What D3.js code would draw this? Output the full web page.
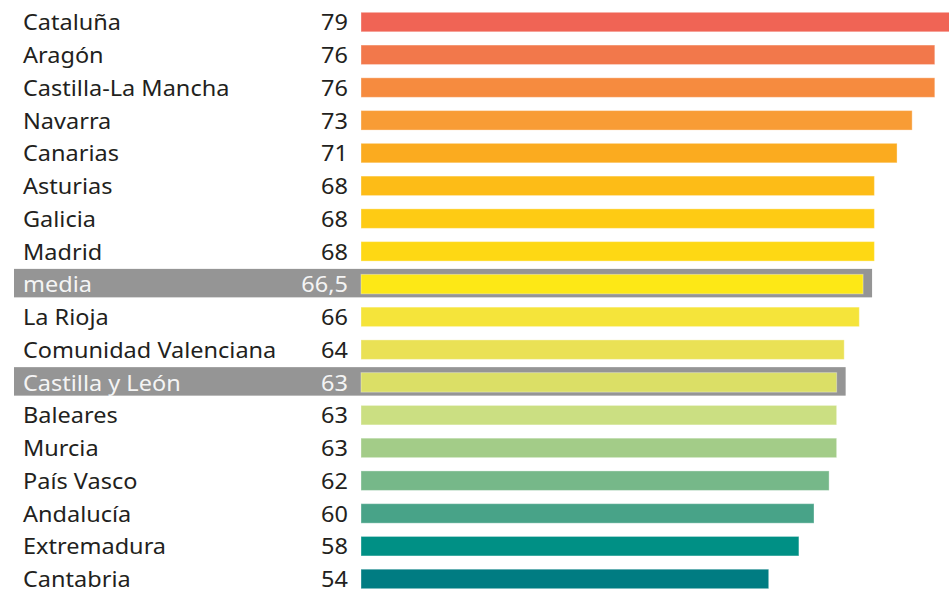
<!DOCTYPE html>
<html>
<head>
<meta charset="utf-8">
<script src="https://cdn.jsdelivr.net/npm/d3@7"></script>
<style>
  body { margin: 0; background: #fff; }
  svg { display: block; }
  text { font-family: "Noto Sans", "Open Sans", sans-serif; }
</style>
</head>
<body>
<div id="chart"></div>
<script>
// regiones, valores y colores de barra
var regions = ["Cataluña", "Aragón", "Castilla-La Mancha", "Navarra", "Canarias", "Asturias",
  "Galicia", "Madrid", "media", "La Rioja", "Comunidad Valenciana", "Castilla y León",
  "Baleares", "Murcia", "País Vasco", "Andalucía", "Extremadura", "Cantabria"]
var values = [79, 76, 76, 73, 71, 68, 68, 68, 66.5, 66, 64, 63, 63, 63, 62, 60, 58, 54]
var barColors = ["#f06455", "#f2784b", "#f68b3f", "#f89c35", "#fbab1f", "#fdbc17",
  "#fecb14", "#fed814", "#fde816", "#f5e43a", "#eae155", "#dbdf66",
  "#cbdf82", "#a3cc88", "#76b889", "#48a388", "#009085", "#007c82"]
var highlighted = ["media", "Castilla y León"]

var width = 949, height = 589
var stretch = 1.12  // la tipografía original es más ancha

var data = regions.map(function(r, i) {
  return { name: r, value: values[i], color: barColors[i] }
})

var svg = d3.select("#chart").append("svg")
  .attr("width", width)
  .attr("height", height)

var x = d3.scaleLinear().domain([0, 79]).range([361, 361 + 79 * 7.55])
var y = d3.scaleBand().domain(regions).range([12.3, 588.7]).paddingInner(0.405).paddingOuter(0)

var fmt = function(v) { return String(v).replace(".", ",") }
var baseY = d => y(d.name) + y.bandwidth() - 1.5

// cajas grises de las filas destacadas
svg.selectAll(".hl").data(data.filter(d => highlighted.includes(d.name)))
  .enter().append("rect")
  .attr("class", "hl")
  .attr("x", 14)
  .attr("y", d => y(d.name) - 5.5)
  .attr("width", d => x(d.value) + 9 - 14)
  .attr("height", y.bandwidth() + 9)
  .attr("fill", "#959595")

svg.selectAll(".bar").data(data)
  .enter().append("rect")
  .attr("class", "bar")
  .attr("x", x(0))
  .attr("y", d => y(d.name))
  .attr("width", d => x(d.value) - x(0))
  .attr("height", y.bandwidth())
  .attr("fill", d => d.color)
  .attr("stroke", "rgba(255,255,255,0.35)")
  .attr("stroke-width", 1)

svg.selectAll(".label").data(data)
  .enter().append("text")
  .attr("class", "label")
  .attr("transform", d => `translate(23,${baseY(d)}) scale(${stretch},1)`)
  .attr("font-size", 21)
  .attr("fill", d => highlighted.includes(d.name) ? "#f4f4f4" : "#231f20")
  .text(d => d.name)

svg.selectAll(".val").data(data)
  .enter().append("text")
  .attr("class", "val")
  .attr("transform", d => `translate(348,${baseY(d)}) scale(${stretch},1)`)
  .attr("text-anchor", "end")
  .attr("font-size", 21)
  .attr("fill", d => highlighted.includes(d.name) ? "#f4f4f4" : "#231f20")
  .text(d => fmt(d.value))
</script>
</body>
</html>
